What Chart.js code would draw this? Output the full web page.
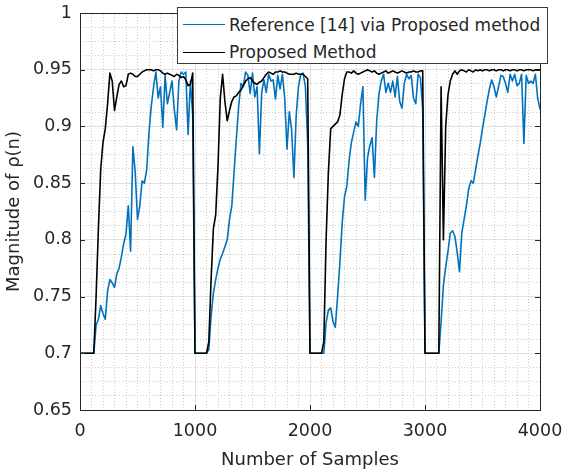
<!DOCTYPE html>
<html>
<head>
<meta charset="utf-8">
<title>Magnitude of ρ(n)</title>
<script src="https://cdn.jsdelivr.net/npm/chart.js@4.4.1/dist/chart.umd.min.js"></script>
<style>
  body { margin: 0; background: #fff; }
  #wrap { position: relative; width: 565px; height: 473px; }
  #legend {
    position: absolute; left: 177px; top: 7px; width: 371px; height: 57px;
    box-sizing: border-box; border: 1px solid #3a3a3a; background: #fff;
    padding-top: 3px; font-family: "DejaVu Sans", sans-serif; font-size: 17px; color: #262626;
  }
  .row { display: flex; align-items: center; height: 27.5px; white-space: nowrap; }
  .swatch { display: inline-block; width: 42px; height: 0; border-top: 1.6px solid; margin: 0 4px 0 5px; }
</style>
</head>
<body>
<div id="wrap">
  <canvas id="chart" width="565" height="473"></canvas>
  <div id="legend"></div>
</div>
<script>
const SAMPLE_STEP = 20; // one stored value every 20 samples, from 0 to 4000

const seriesNames = ["Reference [14] via Proposed method", "Proposed Method"];
const seriesColors = ["#0072bd", "#000000"];

// blue curve
const referenceValues = [
  // 0 - 980
  0.7, 0.7, 0.7, 0.7, 0.7, 0.7, 0.7, 0.725, 0.73, 0.742,
  0.735, 0.73, 0.755, 0.765, 0.762, 0.758, 0.77, 0.775, 0.785, 0.797,
  0.805, 0.83, 0.79, 0.882, 0.86, 0.818, 0.83, 0.852, 0.85, 0.862,
  0.895, 0.918, 0.935, 0.948, 0.925, 0.935, 0.899, 0.945, 0.92, 0.93,
  0.94, 0.915, 0.897, 0.94, 0.948, 0.946, 0.948, 0.893, 0.94, 0.91,
  // 1000 - 1980
  0.7, 0.7, 0.7, 0.7, 0.7, 0.7, 0.703, 0.733, 0.753, 0.765,
  0.775, 0.783, 0.788, 0.794, 0.8, 0.818, 0.83, 0.86, 0.89, 0.918,
  0.938, 0.935, 0.948, 0.945, 0.929, 0.947, 0.926, 0.935, 0.876, 0.93,
  0.941, 0.93, 0.946, 0.94, 0.941, 0.924, 0.945, 0.933, 0.946, 0.925,
  0.88, 0.913, 0.897, 0.855, 0.91, 0.935, 0.946, 0.947, 0.935, 0.885,
  // 2000 - 2980
  0.7, 0.7, 0.7, 0.7, 0.7, 0.7, 0.7, 0.727, 0.738, 0.74,
  0.728, 0.723, 0.75, 0.78, 0.815, 0.838, 0.847, 0.87, 0.886, 0.895,
  0.904, 0.9, 0.92, 0.935, 0.835, 0.872, 0.883, 0.89, 0.855, 0.905,
  0.929, 0.94, 0.946, 0.93, 0.938, 0.93, 0.94, 0.926, 0.944, 0.922,
  0.916, 0.938, 0.946, 0.942, 0.945, 0.925, 0.92, 0.946, 0.943, 0.915,
  // 3000 - 3980
  0.7, 0.7, 0.7, 0.7, 0.7, 0.7, 0.7, 0.728, 0.76, 0.776,
  0.79, 0.806, 0.808, 0.803, 0.789, 0.772, 0.806, 0.818, 0.83, 0.845,
  0.852, 0.85, 0.862, 0.874, 0.885, 0.898, 0.91, 0.922, 0.933, 0.941,
  0.935, 0.926, 0.935, 0.945, 0.944, 0.938, 0.93, 0.946, 0.94, 0.946,
  0.936, 0.938, 0.946, 0.885, 0.945, 0.938, 0.94, 0.938, 0.946, 0.925,
  // 4000
  0.915,
];

// black curve
const proposedValues = [
  // 0 - 980
  0.7, 0.7, 0.7, 0.7, 0.7, 0.7, 0.7, 0.75, 0.81, 0.862,
  0.886, 0.898, 0.92, 0.947, 0.94, 0.914, 0.926, 0.937, 0.94, 0.935,
  0.936, 0.946, 0.947, 0.946, 0.944, 0.944, 0.946, 0.948, 0.949, 0.95,
  0.95, 0.95, 0.949, 0.95, 0.95, 0.949, 0.947, 0.946, 0.947, 0.946,
  0.945, 0.944, 0.946, 0.945, 0.943, 0.944, 0.941, 0.936, 0.937, 0.947,
  // 1000 - 1980
  0.7, 0.7, 0.7, 0.7, 0.7, 0.7, 0.71, 0.765, 0.81, 0.822,
  0.865, 0.925, 0.946, 0.922, 0.905, 0.914, 0.922, 0.926, 0.927, 0.93,
  0.932, 0.936, 0.94, 0.942, 0.943, 0.94, 0.938, 0.937, 0.939, 0.94,
  0.943, 0.946, 0.948, 0.947, 0.946, 0.948, 0.948, 0.949, 0.948, 0.948,
  0.947, 0.946, 0.946, 0.946, 0.947, 0.946, 0.946, 0.946, 0.944, 0.942,
  // 2000 - 2980
  0.7, 0.7, 0.7, 0.7, 0.7, 0.7, 0.71, 0.8, 0.86, 0.898,
  0.9, 0.902, 0.904, 0.91, 0.928, 0.942, 0.948, 0.948, 0.947, 0.949,
  0.947, 0.946, 0.947, 0.948, 0.949, 0.95, 0.949, 0.948, 0.949, 0.947,
  0.946, 0.947, 0.948, 0.949, 0.947, 0.948, 0.949, 0.948, 0.947, 0.948,
  0.949, 0.948, 0.947, 0.948, 0.948, 0.949, 0.948, 0.948, 0.949, 0.949,
  // 3000 - 3980
  0.7, 0.7, 0.7, 0.7, 0.7, 0.7, 0.7, 0.935, 0.8, 0.9,
  0.928, 0.94, 0.946, 0.949, 0.946, 0.949, 0.95, 0.949, 0.948, 0.95,
  0.949, 0.948, 0.95, 0.949, 0.95, 0.949, 0.95, 0.95, 0.949, 0.95,
  0.95, 0.949, 0.95, 0.95, 0.949, 0.95, 0.95, 0.949, 0.95, 0.95,
  0.949, 0.95, 0.95, 0.949, 0.95, 0.95, 0.95, 0.949, 0.95, 0.95,
  // 4000
  0.95,
];

const xTicks = [0, 1000, 2000, 3000, 4000];
const yTicks = [0.65, 0.7, 0.75, 0.8, 0.85, 0.9, 0.95, 1];
const X_MINOR_STEP = 100;
const Y_MINOR_STEP = 0.0125;

const TEXT_COLOR = "#262626";
const AXIS_COLOR = "#262626";

Chart.defaults.font.family = "'DejaVu Sans', sans-serif";
Chart.defaults.color = TEXT_COLOR;

function toPoints(values) {
  return values.map((y, i) => ({ x: i * SAMPLE_STEP, y }));
}

// dotted minor grid positions, skipping the major ones
function minorTicks(min, max, step, majors) {
  const out = [];
  const count = Math.round((max - min) / step);
  for (let i = 0; i <= count; i += 1) {
    const v = min + i * step;
    if (!majors.some((m) => Math.abs(m - v) < step / 10)) {
      out.push({ value: v });
    }
  }
  return out;
}

// keep the plot box fixed: no extra room for overhanging tick labels
function fixHorizontal(height) {
  return (scale) => {
    scale.height = height;
    scale.paddingLeft = 0;
    scale.paddingRight = 0;
  };
}

function fixVertical(width) {
  return (scale) => {
    scale.width = width;
    scale.paddingTop = 0;
    scale.paddingBottom = 0;
  };
}

const inwardTicks = {
  id: "inwardTicks",
  afterDatasetsDraw(chart) {
    const { ctx, chartArea: area, scales } = chart;
    const len = 5;
    ctx.save();
    ctx.strokeStyle = AXIS_COLOR;
    ctx.lineWidth = 1;
    ctx.beginPath();
    xTicks.forEach((v) => {
      const px = Math.round(scales.x.getPixelForValue(v)) + 0.5;
      ctx.moveTo(px, area.bottom);
      ctx.lineTo(px, area.bottom - len);
      ctx.moveTo(px, area.top);
      ctx.lineTo(px, area.top + len);
    });
    yTicks.forEach((v) => {
      const py = Math.round(scales.y.getPixelForValue(v)) + 0.5;
      ctx.moveTo(area.left, py);
      ctx.lineTo(area.left + len, py);
      ctx.moveTo(area.right, py);
      ctx.lineTo(area.right - len, py);
    });
    ctx.stroke();
    ctx.restore();
  },
};

const minorGrid = {
  display: true,
  color: "#cbcbcb",
  lineWidth: 1,
  drawTicks: false,
};

new Chart(document.getElementById("chart"), {
  type: "line",
  data: {
    datasets: [
      {
        label: seriesNames[0],
        data: toPoints(referenceValues),
        borderColor: seriesColors[0],
        borderWidth: 1.6,
        order: 1,
      },
      {
        label: seriesNames[1],
        data: toPoints(proposedValues),
        borderColor: seriesColors[1],
        borderWidth: 1.6,
        order: 0,
      },
    ],
  },
  options: {
    responsive: false,
    devicePixelRatio: 1,
    animation: false,
    layout: { padding: { left: 0, right: 25, top: 13, bottom: 0 } },
    elements: {
      point: { radius: 0 },
      line: { tension: 0, borderJoinStyle: "round", fill: false },
    },
    plugins: {
      legend: { display: false },
      tooltip: { enabled: false },
    },
    scales: {
      x: {
        type: "linear",
        position: "bottom",
        min: 0,
        max: 4000,
        afterBuildTicks: (scale) => {
          scale.ticks = xTicks.map((v) => ({ value: v }));
        },
        afterFit: fixHorizontal(63),
        ticks: {
          font: { size: 17.5 },
          padding: 11,
          maxRotation: 0,
          callback: (value) => String(value),
        },
        grid: { color: "#e1e1e1", lineWidth: 1, drawTicks: false },
        border: { color: AXIS_COLOR, width: 1 },
        title: {
          display: true,
          text: "Number of Samples",
          font: { size: 18 },
          color: TEXT_COLOR,
          padding: { top: 0, bottom: 2 },
        },
      },
      y: {
        type: "linear",
        position: "left",
        min: 0.65,
        max: 1,
        afterBuildTicks: (scale) => {
          scale.ticks = yTicks.map((v) => ({ value: v }));
        },
        afterFit: fixVertical(80),
        ticks: {
          font: { size: 17.5 },
          padding: 8,
          callback: (value) => String(value),
        },
        grid: { color: "#e1e1e1", lineWidth: 1, drawTicks: false },
        border: { color: AXIS_COLOR, width: 1 },
        title: {
          display: true,
          text: "Magnitude of ρ(n)",
          font: { size: 18 },
          color: TEXT_COLOR,
          padding: { top: 4, bottom: 0 },
        },
      },
      xMinor: {
        type: "linear",
        position: "top",
        min: 0,
        max: 4000,
        afterBuildTicks: (scale) => {
          scale.ticks = minorTicks(0, 4000, X_MINOR_STEP, xTicks);
        },
        afterFit: fixHorizontal(0),
        ticks: { display: false },
        grid: minorGrid,
        border: { display: true, color: AXIS_COLOR, width: 1, dash: [1, 2] },
      },
      yMinor: {
        type: "linear",
        position: "right",
        min: 0.65,
        max: 1,
        afterBuildTicks: (scale) => {
          scale.ticks = minorTicks(0.65, 1, Y_MINOR_STEP, yTicks);
        },
        afterFit: fixVertical(0),
        ticks: { display: false },
        grid: minorGrid,
        border: { display: true, color: AXIS_COLOR, width: 1, dash: [1, 2] },
      },
    },
  },
  plugins: [inwardTicks],
});

// legend box floats over the top of the plot, as in the figure
const legendBox = document.getElementById("legend");
seriesNames.forEach((name, i) => {
  const row = document.createElement("div");
  row.className = "row";
  const swatch = document.createElement("span");
  swatch.className = "swatch";
  swatch.style.borderColor = seriesColors[i];
  const label = document.createElement("span");
  label.textContent = name;
  row.appendChild(swatch);
  row.appendChild(label);
  legendBox.appendChild(row);
});
</script>
</body>
</html>
